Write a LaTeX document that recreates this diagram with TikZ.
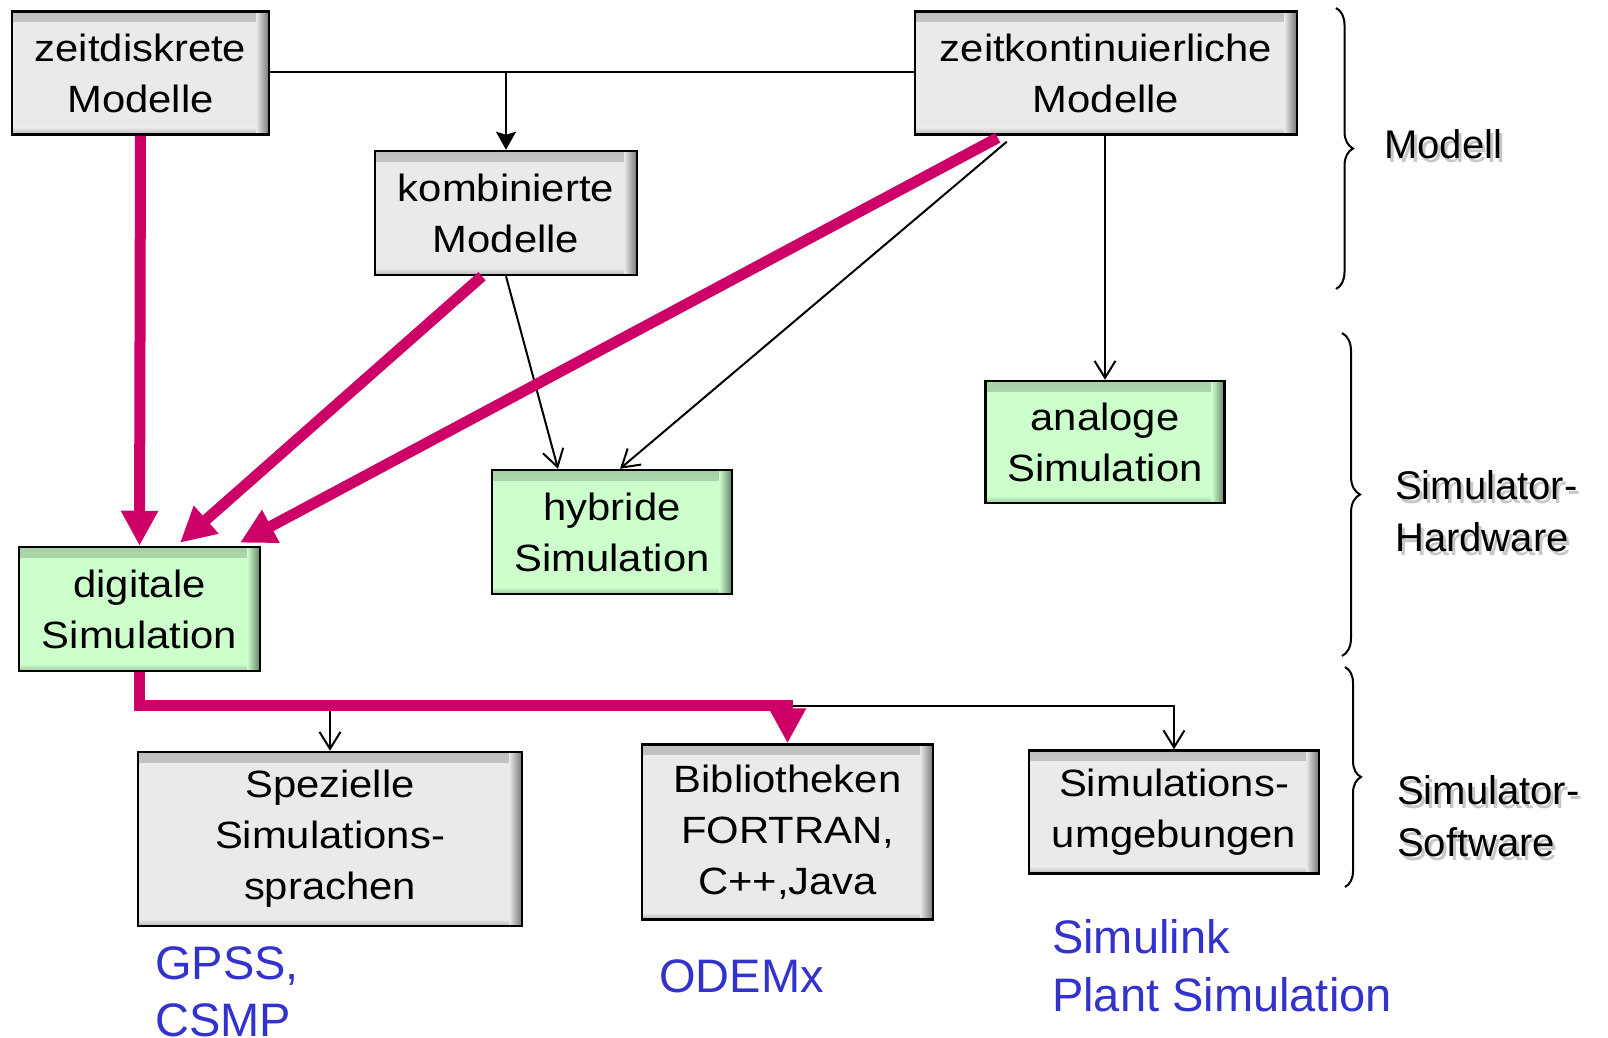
\documentclass[tikz,border=0pt]{standalone}
\usepackage{fontspec}
\setmainfont{Liberation Sans}
\newfontfamily\boxfont{Liberation Sans}[FakeStretch=1.1]
\usetikzlibrary{arrows.meta,decorations.pathreplacing}

\definecolor{boxgray}{RGB}{234,234,234}
\definecolor{boxgreen}{RGB}{204,255,204}
\definecolor{flow}{RGB}{204,0,102}
\definecolor{tool}{RGB}{51,51,204}

% label with a soft drop shadow: name, x, y, text
\newcommand\shadowlabel[4]{%
  \node[lbl, text=black, opacity=0.22] (#1-shadow) at (#2+3,#3+4) {#4};
  \node[lbl] (#1) at (#2,#3) {#4};}

\begin{document}
\begin{tikzpicture}[x=1pt,y=-1pt,
  inshade/.style={path picture={
    \shade[top color=#1!82!black, bottom color=#1]
      (path picture bounding box.north west) rectangle ([yshift=-10pt]path picture bounding box.north east);
    \shade[top color=#1, bottom color=#1!78!black]
      ([yshift=7pt]path picture bounding box.south west) rectangle (path picture bounding box.south east);
    \shade[left color=#1, right color=#1!50!black]
      ([xshift=-13pt]path picture bounding box.north east) rectangle (path picture bounding box.south east);
  }},
  box/.style={draw=black, line width=2.5pt, inner sep=0pt, align=center,
    font=\boxfont\fontsize{38}{51}\selectfont, fill=#1, inshade=#1},
  thinline/.style={line width=2pt},
  thinarrow/.style={thinline, -{Straight Barb[length=17pt,width=21pt]}},
  solidarrow/.style={thinline, -{Stealth[length=18pt,width=20pt,inset=3pt]}},
  flowarrow/.style={draw=flow, line width=11pt, line join=miter,
    -{Triangle[length=35pt,width=35pt]}},
  bracket/.style={decorate, decoration={brace, amplitude=#1}, line width=2pt},
  lbl/.style={font=\fontsize{40}{52}\selectfont, align=left, anchor=base west, inner sep=0pt},
  toollbl/.style={text=tool, font=\fontsize{47}{57}\selectfont, align=left,
    anchor=base west, inner sep=0pt},
]
\useasboundingbox[fill=white] (0,0) rectangle (1608,1037);

% model level
\node[box=boxgray, minimum width=257pt, minimum height=123pt] (zd) at (140.5,73) {zeitdiskrete\\Modelle};
\node[box=boxgray, minimum width=382pt, minimum height=123pt] (zk) at (1106,73) {zeitkontinuierliche\\Modelle};
\node[box=boxgray, minimum width=262pt, minimum height=124pt] (kb) at (506,213) {kombinierte\\Modelle};

% simulator hardware
\node[box=boxgreen, minimum width=239pt, minimum height=122pt] (an) at (1105,442) {analoge\\Simulation};
\node[box=boxgreen, minimum width=240pt, minimum height=124pt] (hy) at (612,532) {hybride\\Simulation};
\node[box=boxgreen, minimum width=241pt, minimum height=124pt] (dg) at (139.5,609) {digitale\\Simulation};

% simulator software
\node[box=boxgray, minimum width=384pt, minimum height=174pt] (sp) at (330,839) {Spezielle\\Simulations-\\sprachen};
\node[box=boxgray, minimum width=291pt, minimum height=175pt] (bi) at (787.5,832) {Bibliotheken\\FORTRAN,\\C++,Java};
\node[box=boxgray, minimum width=290pt, minimum height=123pt] (su) at (1174,812) {Simulations-\\umgebungen};

% thin connectors
\coordinate (j1) at (506,71.5);
\coordinate (busy) at (0,706);
\draw[thinline] (zd.east |- j1) -- (zk.west |- j1);
\draw[solidarrow] (j1) -- (kb.north);
\draw[thinarrow] (zk.south -| an.north) -- (an.north);
\draw[thinarrow] (kb.south) -- ([xshift=-54pt]hy.north);
\draw[thinarrow] ([xshift=93pt,yshift=-6pt]zk.south west) -- ([xshift=8pt]hy.north);
\draw[thinarrow] (sp.north |- busy) -- (sp.north);
\draw[thinarrow] (sp.north |- busy) -| (su.north);

% main flow towards digital simulation
\draw[flowarrow] (zd.south) -- (dg.north);
\draw[flowarrow] ([xshift=-24pt]kb.south) -- ([xshift=40.5pt,yshift=3pt]dg.north);
\draw[flowarrow] ([xshift=84pt,yshift=-2pt]zk.south west) -- ([xshift=100.5pt,yshift=3pt]dg.north);
\draw[flowarrow] (dg.south) -- ([yshift=1pt]dg.south |- busy) -| (bi.north);

% level braces
\draw[bracket=17pt] (1336,8) -- (1336,289);
\draw[bracket=18pt] (1342,333) -- (1342,656);
\draw[bracket=16pt] (1345,667) -- (1345,887);

\shadowlabel{modell}{1384}{158}{Modell}
\shadowlabel{hw}{1395}{551}{Simulator-\\Hardware}
\shadowlabel{sw}{1397}{856}{Simulator-\\Software}

% example tools
\node[toollbl] (t1) at (155,1036) {GPSS,\\CSMP};
\node[toollbl] (t2) at (659,992) {ODEMx};
\node[toollbl, font=\fontsize{47}{58}\selectfont] (t3) at (1052,1011) {Simulink\\Plant Simulation};
\end{tikzpicture}
\end{document}
